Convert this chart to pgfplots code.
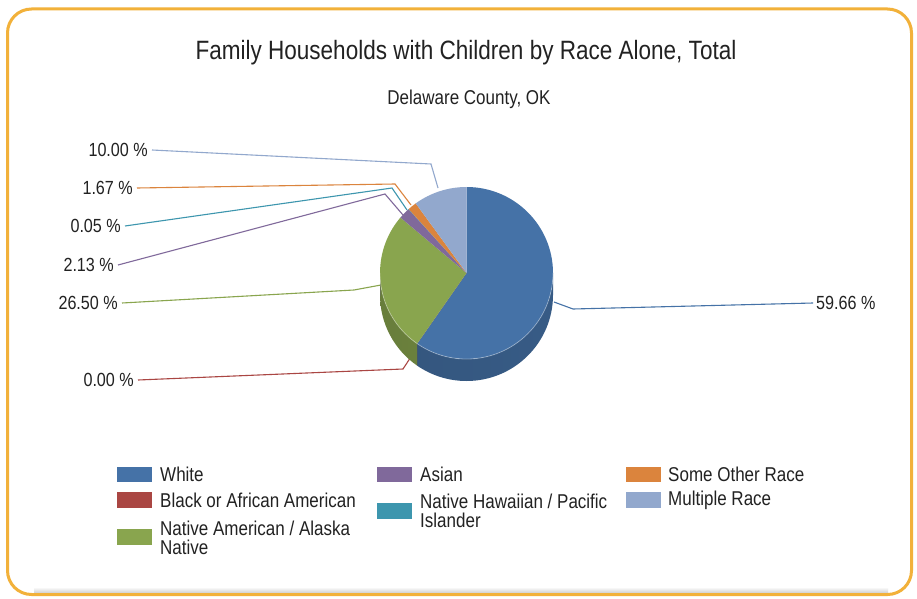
\documentclass[border=0pt]{standalone}
\usepackage{pgfplots}
\pgfplotsset{compat=1.18}
\usepackage{pgfplotstable}
\usepackage{fontspec}
\setmainfont{Liberation Sans}[FakeStretch=0.85]

\definecolor{slice0}{HTML}{4572A7}
\definecolor{slice1}{HTML}{AA4643}
\definecolor{slice2}{HTML}{89A54E}
\definecolor{slice3}{HTML}{80699B}
\definecolor{slice4}{HTML}{3D96AE}
\definecolor{slice5}{HTML}{DB843D}
\definecolor{slice6}{HTML}{92A8CD}
\definecolor{frameline}{HTML}{F2B13A}
\definecolor{txt}{HTML}{222222}

% share of each race (%), slices run clockwise from 12 o'clock
\pgfplotstableread{
idx value
0 59.66
1 0.00
2 26.50
3 2.13
4 0.05
5 1.67
6 10.00
}\racetable

% pie geometry (1pt = 1px of the reference)
\def\cx{466.5}
\def\cy{325}
\def\rx{86.5}
\def\ry{86}
\def\depth{22}

\begin{document}
\begin{tikzpicture}
% start/end angle of each slice, and the part of it seen on the front rim
\def\curang{90}
\pgfplotsforeachungrouped \i in {0,...,6}{%
  \pgfplotstablegetelem{\i}{value}\of\racetable
  \pgfmathsetmacro\endang{\curang-3.6*\pgfplotsretval}%
  \pgfmathsetmacro\lo{max(\endang,-180)}%
  \pgfmathsetmacro\hi{max(min(\curang,0),\lo)}%
  \expandafter\xdef\csname sA\i\endcsname{\curang}%
  \expandafter\xdef\csname eA\i\endcsname{\endang}%
  \expandafter\xdef\csname lo\i\endcsname{\lo}%
  \expandafter\xdef\csname hi\i\endcsname{\hi}%
  \xdef\curang{\endang}%
}
\begin{axis}[
  x=1pt, y=1pt, scale only axis,
  xmin=0, xmax=917, ymin=0, ymax=598,
  hide axis, clip=false,
]
  % card with rounded orange frame
  \fill[white] (axis cs:0,0) rectangle (axis cs:917,598);
  \shade[top color=white, bottom color=black!22] (axis cs:34,4) rectangle (axis cs:888,11);
  \draw[frameline, line width=3pt, rounded corners=24pt] (axis cs:7.5,3.5) rectangle (axis cs:911.5,589);

  \node[txt, anchor=base, font=\fontsize{26.5}{28}\selectfont] at (axis cs:466,538)
    {Family Households with Children by Race Alone, Total};
  \node[txt, anchor=base, font=\fontsize{20}{22}\selectfont] at (axis cs:469,493)
    {Delaware County, OK};

  % leader lines
  \addplot[slice6, line width=1.1pt, forget plot] coordinates {(152,448) (431,434) (438,410)};
  \addplot[slice5, line width=1.1pt, forget plot] coordinates {(137,410) (395,414) (411,393)};
  \addplot[slice4, line width=1.1pt, forget plot] coordinates {(125,372) (392,410) (407,388)};
  \addplot[slice3, line width=1.1pt, forget plot] coordinates {(118,333) (385,404) (403,383)};
  \addplot[slice2, line width=1.1pt, forget plot] coordinates {(122,295) (354,308) (381,313)};
  \addplot[slice1, line width=1.1pt, forget plot] coordinates {(138,218) (403,229) (418,252)};
  \addplot[slice0, line width=1.1pt, forget plot] coordinates {(554,296) (573,289) (813,295)};

  % pie: front rim first, then the top face
  \pgfplotsinvokeforeach{0,...,6}{%
    \shade[left color=slice#1!76!black, middle color=slice#1!94!black, right color=slice#1!80!black]
      (axis cs:\cx,\cy) ++(\csname lo#1\endcsname:\rx pt and \ry pt)
      arc[start angle=\csname lo#1\endcsname, end angle=\csname hi#1\endcsname, x radius=\rx pt, y radius=\ry pt]
      -- ++(0,-\depth pt)
      arc[start angle=\csname hi#1\endcsname, end angle=\csname lo#1\endcsname, x radius=\rx pt, y radius=\ry pt]
      -- cycle;
  }
  \pgfplotsinvokeforeach{0,...,6}{%
    \fill[slice#1] (axis cs:\cx,\cy) -- ++(\csname sA#1\endcsname:\rx pt and \ry pt)
      arc[start angle=\csname sA#1\endcsname, end angle=\csname eA#1\endcsname, x radius=\rx pt, y radius=\ry pt]
      -- cycle;
  }
  \draw[white, opacity=0.35, line width=0.8pt] (axis cs:\cx,\cy) ++(-180:\rx pt and \ry pt)
    arc[start angle=-180, end angle=0, x radius=\rx pt, y radius=\ry pt];

  % slice labels
  \begin{scope}[every node/.style={txt, inner sep=0pt, font=\fontsize{19}{20}\selectfont}]
    \node[anchor=east] at (axis cs:148,448) {10.00 \%};
    \node[anchor=east] at (axis cs:133,410) {1.67 \%};
    \node[anchor=east] at (axis cs:121,372) {0.05 \%};
    \node[anchor=east] at (axis cs:114,333) {2.13 \%};
    \node[anchor=east] at (axis cs:118,295) {26.50 \%};
    \node[anchor=east] at (axis cs:134,218) {0.00 \%};
    \node[anchor=west] at (axis cs:816,295) {59.66 \%};
  \end{scope}

  % legend
  \fill[slice0] (axis cs:117,116) rectangle (axis cs:152,131.5);
  \fill[slice1] (axis cs:117,90) rectangle (axis cs:152,106);
  \fill[slice2] (axis cs:117,53) rectangle (axis cs:152,69.5);
  \fill[slice3] (axis cs:377,116) rectangle (axis cs:412,131.5);
  \fill[slice4] (axis cs:377,79) rectangle (axis cs:412,95);
  \fill[slice5] (axis cs:626,116) rectangle (axis cs:661,131.5);
  \fill[slice6] (axis cs:626,90) rectangle (axis cs:661,106);
  \begin{scope}[every node/.style={txt, inner sep=0pt, anchor=west, align=left,
      font=\fontsize{20}{19}\selectfont}]
    \node at (axis cs:160,124) {White};
    \node at (axis cs:160,98) {Black or African American};
    \node at (axis cs:160,60.5) {Native American / Alaska\\Native};
    \node at (axis cs:420,124) {Asian};
    \node at (axis cs:420,87.5) {Native Hawaiian / Pacific\\Islander};
    \node at (axis cs:668,124) {Some Other Race};
    \node at (axis cs:668,98) {Multiple Race};
  \end{scope}
\end{axis}
\end{tikzpicture}
\end{document}
